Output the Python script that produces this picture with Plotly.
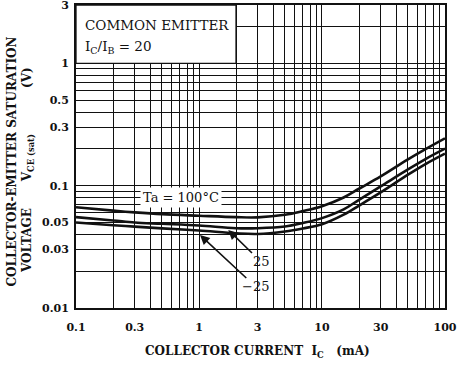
import plotly.graph_objects as go
import math

# ---- data ----
ic_ma = [0.1, 0.2, 0.3, 0.5, 1, 2, 3, 5, 7, 10, 15, 20, 30, 50, 70, 100]
vce_100c = [0.0666, 0.0625, 0.0605, 0.0585, 0.0568, 0.0553, 0.0551, 0.0578, 0.0620,
            0.0679, 0.080, 0.0944, 0.119, 0.164, 0.200, 0.244]
vce_25c = [0.0553, 0.052, 0.050, 0.0488, 0.0472, 0.0449, 0.0449, 0.0463, 0.0495,
           0.0543, 0.064, 0.0766, 0.0987, 0.136, 0.166, 0.201]
vce_m25c = [0.050, 0.0475, 0.0463, 0.0448, 0.043, 0.0408, 0.0403, 0.0422, 0.0447,
            0.0484, 0.058, 0.0687, 0.088, 0.123, 0.151, 0.183]

x_ticks = [0.1, 0.3, 1, 3, 10, 30, 100]
x_ticktext = ["0.1", "0.3", "1", "3", "10", "30", "100"]
y_ticks = [0.01, 0.03, 0.05, 0.1, 0.3, 0.5, 1, 3]
y_ticktext = ["0.01", "0.03", "0.05", "0.1", "0.3", "0.5", "1", "3"]

x_minor = [m * d for d in (0.1, 1, 10) for m in range(2, 10)]
y_minor = [m * d for d in (0.01, 0.1) for m in range(2, 10)] + [2]

X_RANGE = [-1.0002, 2.0002]
Y_RANGE = [-2.0002, math.log10(3) + 0.0004]

SERIF = "DejaVu Serif"
INK = "#111111"

fig = go.Figure()
for vals in (vce_100c, vce_25c, vce_m25c):
    fig.add_trace(go.Scatter(
        x=ic_ma, y=vals, mode="lines",
        line=dict(color=INK, width=2.6, shape="spline", smoothing=1.0),
        showlegend=False, hoverinfo="skip"))

grid = dict(showgrid=True, gridcolor=INK, gridwidth=1.2)
fig.update_xaxes(
    type="log", range=X_RANGE, tickvals=x_ticks, ticktext=x_ticktext,
    ticks="", ticklabelstandoff=8, zeroline=False, automargin=False,
    ticklabeloverflow="allow",
    showline=True, linecolor=INK, linewidth=2, mirror=True,
    tickfont=dict(family=SERIF, size=11, color=INK, weight="bold"),
    minor=dict(tickvals=x_minor, showgrid=True, gridcolor=INK, gridwidth=1.2, ticks=""),
    **grid)
fig.update_yaxes(
    type="log", range=Y_RANGE, tickvals=y_ticks, ticktext=y_ticktext,
    ticks="", ticklabelstandoff=3, zeroline=False, automargin=False,
    ticklabeloverflow="allow",
    showline=True, linecolor=INK, linewidth=2, mirror=True,
    tickfont=dict(family=SERIF, size=11, color=INK, weight="bold"),
    minor=dict(tickvals=y_minor, showgrid=True, gridcolor=INK, gridwidth=1.2, ticks=""),
    **grid)

# white box masking the grid behind the condition text (x<2, y>1)
fig.add_shape(type="rect", xref="paper", yref="paper",
              x0=0, x1=(math.log10(2) - X_RANGE[0]) / (X_RANGE[1] - X_RANGE[0]),
              y0=(0 - Y_RANGE[0]) / (Y_RANGE[1] - Y_RANGE[0]), y1=1,
              fillcolor="white", line=dict(color=INK, width=1.3), layer="above")

ann = []
ann.append(dict(text="COMMON EMITTER", xref="paper", yref="paper", x=0.019, y=0.934,
                xanchor="left", yanchor="middle", showarrow=False,
                font=dict(family=SERIF, size=13.5, color=INK)))
ann.append(dict(text="I<sub>C</sub>/I<sub>B</sub> = 20", xref="paper", yref="paper",
                x=0.019, y=0.862, xanchor="left", yanchor="middle", showarrow=False,
                font=dict(family=SERIF, size=13.5, color=INK)))
ann.append(dict(text="Ta = 100°C", xref="x", yref="y", x=-0.146, y=-1.0965,
                xanchor="center", yanchor="middle", showarrow=False,
                bgcolor="white", borderpad=2,
                font=dict(family=SERIF, size=13, color=INK)))
ann.append(dict(text="25", xref="x", yref="y", x=0.238, y=-1.362,
                ax=33, ay=32, showarrow=True, arrowhead=2, arrowsize=1.2,
                arrowwidth=1.6, arrowcolor=INK, standoff=0,
                font=dict(family=SERIF, size=13, color=INK)))
ann.append(dict(text="\u221225", xref="x", yref="y", x=0.008, y=-1.403,
                ax=56, ay=52, showarrow=True, arrowhead=2, arrowsize=1.2,
                arrowwidth=1.6, arrowcolor=INK, standoff=0,
                font=dict(family=SERIF, size=13, color=INK)))
# axis titles
tf = dict(family=SERIF, size=12, color=INK, weight="bold")
ann.append(dict(text="COLLECTOR CURRENT\u00a0\u00a0I<sub>C</sub>\u00a0\u00a0\u00a0(mA)",
                xref="paper", yref="paper", x=0.493, y=-0.145,
                xanchor="center", yanchor="middle", showarrow=False, font=tf))
ann.append(dict(text="COLLECTOR-EMITTER SATURATION", xref="paper", yref="paper",
                x=-0.1734, y=0.4835, textangle=-90, xanchor="center", yanchor="middle",
                showarrow=False, font=tf))
ann.append(dict(text="VOLTAGE", xref="paper", yref="paper",
                x=-0.1328, y=0.2244, textangle=-90, xanchor="center", yanchor="middle",
                showarrow=False, font=tf))
ann.append(dict(text="V<sub>CE (sat)</sub>", xref="paper", yref="paper",
                x=-0.128, y=0.4934, textangle=-90, xanchor="center", yanchor="middle",
                showarrow=False, font=tf))
ann.append(dict(text="(V)", xref="paper", yref="paper",
                x=-0.1328, y=0.7624, textangle=-90, xanchor="center", yanchor="middle",
                showarrow=False, font=tf))

fig.update_layout(
    width=458, height=366,
    margin=dict(l=76, r=13, t=5, b=58, autoexpand=False),
    paper_bgcolor="white", plot_bgcolor="white",
    annotations=ann, showlegend=False)

fig.write_html("out.html", config={"displayModeBar": False},
               post_script="document.body.style.margin='0';document.body.style.overflow='hidden';")
